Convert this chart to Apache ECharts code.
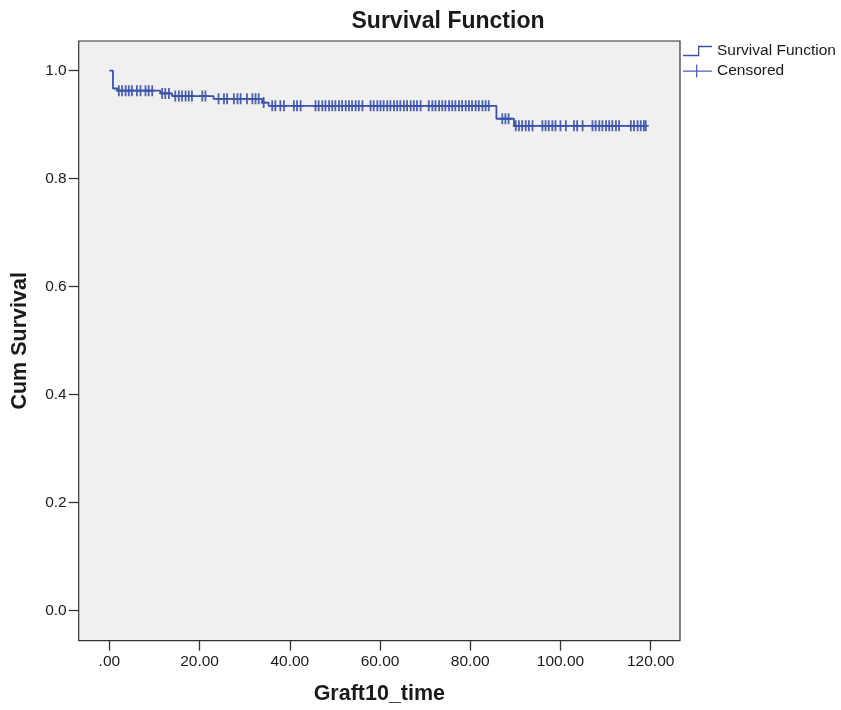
<!DOCTYPE html>
<html>
<head>
<meta charset="utf-8">
<script src="https://cdn.jsdelivr.net/npm/echarts@6/dist/echarts.min.js"></script>
<style>
html,body{margin:0;padding:0;background:#fff;}
#chart{width:841px;height:710px;}
</style>
</head>
<body>
<div id="chart"></div>
<script>
// Kaplan-Meier step points (time at which level starts, survival level)
const kmTime = [0, 0.8, 1.8, 11.3, 13.9, 23.1, 33.9, 35.3, 85.8, 89.7, 118.9];
const kmSurv = [1.0, 0.967, 0.963, 0.958, 0.953, 0.948, 0.941, 0.935, 0.911, 0.898, 0.898];

// Censored observation times
const censorTimes = [
  2.1, 2.8, 3.6, 4.3, 5.0, 6.1, 6.9, 8.0, 8.7, 9.5,
  11.7, 12.4, 13.2,
  14.6, 15.4, 16.1, 16.9, 17.6, 18.3, 20.6, 21.3,
  24.2, 25.4, 26.1, 27.6, 28.4, 29.1, 30.5, 31.7, 32.4, 33.1,
  34.2,
  36.1, 36.8, 37.9, 38.7, 40.9, 41.6, 42.4,
  45.7, 46.4, 47.2, 47.9, 48.7, 49.4, 50.1, 50.9, 51.6, 52.4, 53.1, 53.8, 54.6, 55.3, 56.1,
  57.9, 58.6, 59.4, 60.1, 60.8, 61.6, 62.3, 63.1, 63.8, 64.5, 65.3, 66.0, 66.8, 67.5, 68.2, 69.0,
  70.8, 71.6, 72.3, 73.1, 73.8, 74.5, 75.3, 76.0, 76.7, 77.5, 78.2, 79.0, 79.7, 80.4, 81.2, 81.9, 82.7, 83.4, 84.1,
  87.1, 87.8, 88.5,
  90.1, 90.8, 91.5, 92.3, 93.0, 93.8,
  96.0, 96.7, 97.4, 98.2, 98.9, 100.0, 101.2,
  103.0, 103.7, 104.9,
  107.1, 107.8, 108.6, 109.3, 110.1, 110.8, 111.5, 112.3, 113.0,
  115.6, 116.3, 117.1, 117.8, 118.5, 118.9
];

const xTicks = [0, 20, 40, 60, 80, 100, 120];
const yTicks = [0, 0.2, 0.4, 0.6, 0.8, 1.0];

const titleText = 'Survival Function';
const xName = 'Graft10_time';
const yName = 'Cum Survival';
const legendNames = ['Survival Function', 'Censored'];

function survAt(t) {
  let s = kmSurv[0];
  for (let i = 0; i < kmTime.length; i++) {
    if (kmTime[i] <= t) s = kmSurv[i];
  }
  return s;
}

const kmData = kmTime.map((t, i) => [t, kmSurv[i]]);
const censorData = censorTimes.map(t => [t, survAt(t)]);

const blue = '#3a52aa';
const txt = '#1a1a1a';
const font = 'Liberation Sans, Arial, sans-serif';

const chart = echarts.init(document.getElementById('chart'));
chart.setOption({
  animation: false,
  backgroundColor: '#ffffff',
  title: {
    text: titleText,
    left: 448,
    top: 10,
    padding: 0,
    textAlign: 'center',
    textStyle: { fontFamily: font, fontSize: 23, fontWeight: 'bold', color: txt }
  },
  legend: {
    orient: 'vertical',
    left: 683,
    top: 43,
    padding: 0,
    itemWidth: 29,
    itemHeight: 14,
    itemGap: 4,
    textStyle: { fontFamily: font, fontSize: 15.5, color: txt },
    data: [
      { name: legendNames[0], icon: 'path://M0,9L15,9L15,0L29,0L29,1.3L16.3,1.3L16.3,10.3L0,10.3Z', itemStyle: { color: blue } },
      { name: legendNames[1], icon: 'path://M0,6L13,6L13,0L14.3,0L14.3,6L29,6L29,7.3L14.3,7.3L14.3,13L13,13L13,7.3L0,7.3Z', itemStyle: { color: blue } }
    ]
  },
  grid: {
    left: 78.7,
    right: 161,
    top: 41,
    bottom: 69.3,
    show: true,
    backgroundColor: '#f0f0f0',
    borderColor: '#333333',
    borderWidth: 1.2
  },
  xAxis: {
    type: 'value',
    min: -6.8,
    max: 126.5,
    name: xName,
    nameLocation: 'middle',
    nameGap: 42,
    nameTextStyle: { fontFamily: font, fontSize: 21.5, fontWeight: 'bold', color: txt },
    axisLine: { show: false, onZero: false },
    splitLine: { show: false },
    axisTick: { show: true, inside: false, length: 10, customValues: xTicks, lineStyle: { color: '#333', width: 1.3 } },
    axisLabel: {
      customValues: xTicks,
      margin: 13,
      fontFamily: font, fontSize: 15.5, color: txt,
      formatter: v => (v === 0 ? '.00' : v.toFixed(2))
    }
  },
  yAxis: {
    type: 'value',
    min: -0.0556,
    max: 1.055,
    name: yName,
    nameLocation: 'middle',
    nameGap: 48,
    nameTextStyle: { fontFamily: font, fontSize: 21.5, fontWeight: 'bold', color: txt },
    axisLine: { show: false, onZero: false },
    splitLine: { show: false },
    axisTick: { show: true, inside: false, length: 10, customValues: yTicks, lineStyle: { color: '#333', width: 1.3 } },
    axisLabel: {
      customValues: yTicks,
      margin: 12,
      fontFamily: font, fontSize: 15.5, color: txt,
      formatter: v => v.toFixed(1)
    }
  },
  series: [
    {
      name: legendNames[0],
      type: 'line',
      step: 'end',
      data: kmData,
      showSymbol: false,
      symbol: 'none',
      lineStyle: { color: blue, width: 1.8 },
      itemStyle: { color: blue },
      z: 2
    },
    {
      name: legendNames[1],
      type: 'scatter',
      data: censorData,
      symbol: 'path://M-0.9,-5.5L0.9,-5.5L0.9,-0.9L3,-0.9L3,0.9L0.9,0.9L0.9,5.5L-0.9,5.5L-0.9,0.9L-3,0.9L-3,-0.9L-0.9,-0.9Z',
      symbolSize: [6, 11],
      itemStyle: { color: blue, opacity: 0.9 },
      z: 3
    }
  ]
});
</script>
</body>
</html>
